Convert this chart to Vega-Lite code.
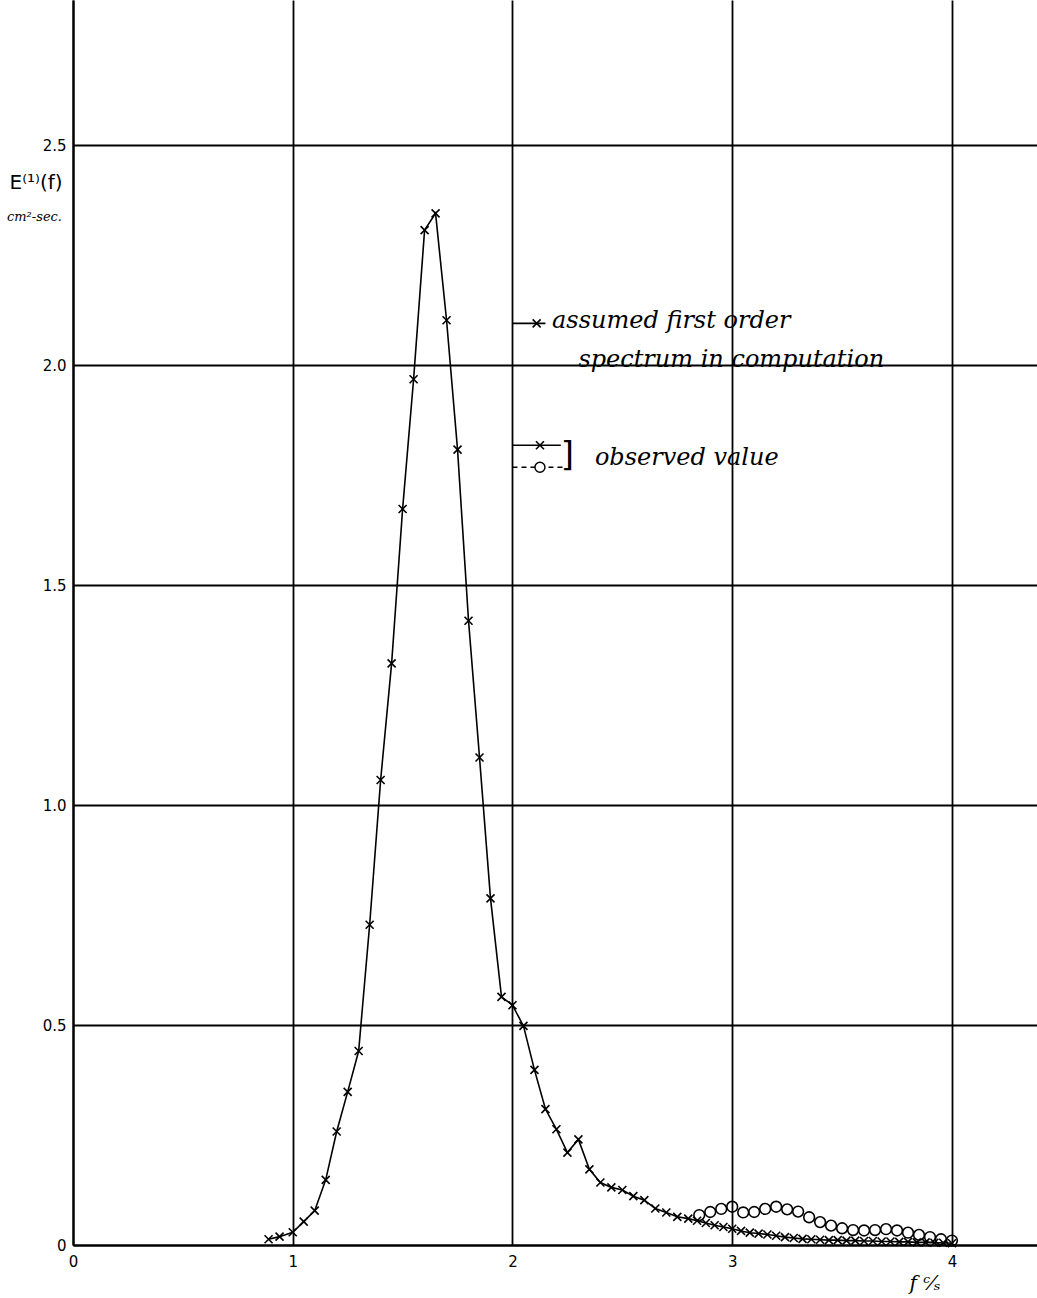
{
  "$schema": "https://vega.github.io/schema/vega-lite/v6.json",
  "width": 964,
  "height": 1245,
  "autosize": {"type": "none"},
  "padding": {"left": 73, "right": 0, "top": 0, "bottom": 53},
  "background": "white",
  "title": {"text": "cm²-sec.", "anchor": "start", "frame": "group", "orient": "top", "dx": -66, "dy": 228, "fontSize": 13, "fontStyle": "italic", "fontWeight": "normal", "font": "DejaVu Serif", "color": "black"},
  "config": {
    "view": {"stroke": null},
    "axis": {"domainColor": "black", "domainWidth": 2.2, "gridColor": "black", "gridWidth": 1.8, "gridOpacity": 1, "ticks": false, "labelColor": "black", "labelFont": "DejaVu Sans", "labelFontSize": 15, "titleColor": "black"}
  },
  "datasets": {
    "main": [
      {"f": 0.89, "E": 0.013}, {"f": 0.94, "E": 0.019}, {"f": 1.0, "E": 0.029}, {"f": 1.05, "E": 0.053},
      {"f": 1.1, "E": 0.078}, {"f": 1.15, "E": 0.148}, {"f": 1.2, "E": 0.258}, {"f": 1.25, "E": 0.348},
      {"f": 1.3, "E": 0.441}, {"f": 1.35, "E": 0.728}, {"f": 1.4, "E": 1.057}, {"f": 1.45, "E": 1.322},
      {"f": 1.5, "E": 1.673}, {"f": 1.55, "E": 1.968}, {"f": 1.6, "E": 2.307}, {"f": 1.65, "E": 2.345},
      {"f": 1.7, "E": 2.102}, {"f": 1.75, "E": 1.808}, {"f": 1.8, "E": 1.419}, {"f": 1.85, "E": 1.108},
      {"f": 1.9, "E": 0.788}, {"f": 1.95, "E": 0.564}, {"f": 2.0, "E": 0.545}, {"f": 2.05, "E": 0.498},
      {"f": 2.1, "E": 0.398}, {"f": 2.15, "E": 0.309}, {"f": 2.2, "E": 0.263}, {"f": 2.25, "E": 0.21},
      {"f": 2.3, "E": 0.24}, {"f": 2.35, "E": 0.172}, {"f": 2.4, "E": 0.142}, {"f": 2.45, "E": 0.131},
      {"f": 2.5, "E": 0.125}, {"f": 2.55, "E": 0.111}, {"f": 2.6, "E": 0.102}, {"f": 2.65, "E": 0.083},
      {"f": 2.7, "E": 0.074}, {"f": 2.75, "E": 0.064}, {"f": 2.8, "E": 0.06}, {"f": 2.84, "E": 0.055},
      {"f": 2.88, "E": 0.05}, {"f": 2.92, "E": 0.045}, {"f": 2.96, "E": 0.041}, {"f": 3.0, "E": 0.037},
      {"f": 3.04, "E": 0.032}, {"f": 3.08, "E": 0.028}, {"f": 3.12, "E": 0.026}, {"f": 3.16, "E": 0.024},
      {"f": 3.2, "E": 0.021}, {"f": 3.24, "E": 0.018}, {"f": 3.28, "E": 0.016}, {"f": 3.32, "E": 0.014},
      {"f": 3.36, "E": 0.013}, {"f": 3.4, "E": 0.012}, {"f": 3.44, "E": 0.011}, {"f": 3.48, "E": 0.011},
      {"f": 3.52, "E": 0.01}, {"f": 3.56, "E": 0.01}, {"f": 3.6, "E": 0.009}, {"f": 3.64, "E": 0.009},
      {"f": 3.68, "E": 0.008}, {"f": 3.72, "E": 0.008}, {"f": 3.76, "E": 0.007}, {"f": 3.8, "E": 0.007},
      {"f": 3.84, "E": 0.006}, {"f": 3.88, "E": 0.006}, {"f": 3.92, "E": 0.005}, {"f": 3.96, "E": 0.005},
      {"f": 4.0, "E": 0.004}
    ],
    "observed": [
      {"f": 2.85, "E": 0.068}, {"f": 2.9, "E": 0.075}, {"f": 2.95, "E": 0.082}, {"f": 3.0, "E": 0.087},
      {"f": 3.05, "E": 0.074}, {"f": 3.1, "E": 0.075}, {"f": 3.15, "E": 0.082}, {"f": 3.2, "E": 0.087},
      {"f": 3.25, "E": 0.081}, {"f": 3.3, "E": 0.076}, {"f": 3.35, "E": 0.063}, {"f": 3.4, "E": 0.052},
      {"f": 3.45, "E": 0.044}, {"f": 3.5, "E": 0.038}, {"f": 3.55, "E": 0.034}, {"f": 3.6, "E": 0.033},
      {"f": 3.65, "E": 0.034}, {"f": 3.7, "E": 0.036}, {"f": 3.75, "E": 0.033}, {"f": 3.8, "E": 0.028},
      {"f": 3.85, "E": 0.023}, {"f": 3.9, "E": 0.018}, {"f": 3.95, "E": 0.013}, {"f": 4.0, "E": 0.01}
    ],
    "legendLines": [
      {"x1": 2.0, "x2": 2.15, "E": 2.095, "kind": "solid"},
      {"x1": 2.0, "x2": 2.22, "E": 1.818, "kind": "solid"},
      {"x1": 2.0, "x2": 2.24, "E": 1.768, "kind": "dashed"}
    ],
    "legendSymbols": [
      {"f": 2.11, "E": 2.095, "sym": "x"},
      {"f": 2.125, "E": 1.818, "sym": "x"},
      {"f": 2.125, "E": 1.768, "sym": "o"}
    ],
    "legendText": [
      {"f": 2.18, "E": 2.1, "text": "assumed first order"},
      {"f": 2.3, "E": 2.011, "text": "spectrum in computation"},
      {"f": 2.375, "E": 1.79, "text": "observed value"}
    ],
    "bracket": [
      {"f": 2.25, "E": 1.793, "text": "]"}
    ]
  },
  "layer": [
    {
      "data": {"name": "main"},
      "mark": {"type": "line", "interpolate": "linear", "color": "black", "strokeWidth": 1.6},
      "encoding": {
        "x": {"field": "f", "type": "quantitative", "scale": {"domain": [0, 4.387], "nice": false, "zero": true},
              "axis": {"values": [0, 1, 2, 3, 4], "format": "d", "grid": true, "labelPadding": 9, "labelFlush": false,
                       "title": "f ᶜ⁄ₛ", "titleFont": "DejaVu Serif", "titleFontStyle": "italic", "titleFontWeight": "normal", "titleFontSize": 20,
                       "titleX": 836, "titleY": 28, "titleAlign": "left", "titleBaseline": "top"}},
        "y": {"field": "E", "type": "quantitative", "scale": {"domain": [0, 2.83], "nice": false, "zero": true},
              "axis": {"values": [0, 0.5, 1, 1.5, 2, 2.5], "grid": true, "labelPadding": 7, "labelFlush": false,
                       "labelExpr": "datum.value == 0 ? '0' : format(datum.value, '.1f')",
                       "title": "E⁽¹⁾(f)", "titleFont": "DejaVu Sans", "titleFontWeight": "normal", "titleFontSize": 20,
                       "titleAngle": 0, "titleAlign": "left", "titleBaseline": "middle", "titleX": -64, "titleY": 182}}
      }
    },
    {
      "data": {"name": "main"},
      "mark": {"type": "point", "shape": "M-1,-1L1,1M-1,1L1,-1", "filled": false, "stroke": "black", "strokeWidth": 1.6, "size": 64, "opacity": 1},
      "encoding": {
        "x": {"field": "f", "type": "quantitative"},
        "y": {"field": "E", "type": "quantitative"}
      }
    },
    {
      "data": {"name": "observed"},
      "mark": {"type": "point", "shape": "circle", "filled": false, "stroke": "black", "strokeWidth": 1.6, "size": 115, "opacity": 1},
      "encoding": {
        "x": {"field": "f", "type": "quantitative"},
        "y": {"field": "E", "type": "quantitative"}
      }
    },
    {
      "data": {"name": "legendLines"},
      "transform": [{"filter": "datum.kind == 'solid'"}],
      "mark": {"type": "rule", "color": "black", "strokeWidth": 1.6},
      "encoding": {
        "x": {"field": "x1", "type": "quantitative"},
        "x2": {"field": "x2"},
        "y": {"field": "E", "type": "quantitative"}
      }
    },
    {
      "data": {"name": "legendLines"},
      "transform": [{"filter": "datum.kind == 'dashed'"}],
      "mark": {"type": "rule", "color": "black", "strokeWidth": 1.4, "strokeDash": [5, 4]},
      "encoding": {
        "x": {"field": "x1", "type": "quantitative"},
        "x2": {"field": "x2"},
        "y": {"field": "E", "type": "quantitative"}
      }
    },
    {
      "data": {"name": "legendSymbols"},
      "transform": [{"filter": "datum.sym == 'x'"}],
      "mark": {"type": "point", "shape": "M-1,-1L1,1M-1,1L1,-1", "filled": false, "stroke": "black", "strokeWidth": 1.6, "size": 64, "opacity": 1},
      "encoding": {
        "x": {"field": "f", "type": "quantitative"},
        "y": {"field": "E", "type": "quantitative"}
      }
    },
    {
      "data": {"name": "legendSymbols"},
      "transform": [{"filter": "datum.sym == 'o'"}],
      "mark": {"type": "point", "shape": "circle", "filled": true, "fill": "white", "stroke": "black", "strokeWidth": 1.5, "size": 100, "opacity": 1},
      "encoding": {
        "x": {"field": "f", "type": "quantitative"},
        "y": {"field": "E", "type": "quantitative"}
      }
    },
    {
      "data": {"name": "legendText"},
      "mark": {"type": "text", "align": "left", "baseline": "middle", "font": "DejaVu Serif", "fontStyle": "italic", "fontSize": 24, "color": "black"},
      "encoding": {
        "x": {"field": "f", "type": "quantitative"},
        "y": {"field": "E", "type": "quantitative"},
        "text": {"field": "text"}
      }
    },
    {
      "data": {"name": "bracket"},
      "mark": {"type": "text", "align": "center", "baseline": "middle", "font": "DejaVu Sans", "fontWeight": "normal", "fontSize": 34, "color": "black"},
      "encoding": {
        "x": {"field": "f", "type": "quantitative"},
        "y": {"field": "E", "type": "quantitative"},
        "text": {"field": "text"}
      }
    }
  ]
}
